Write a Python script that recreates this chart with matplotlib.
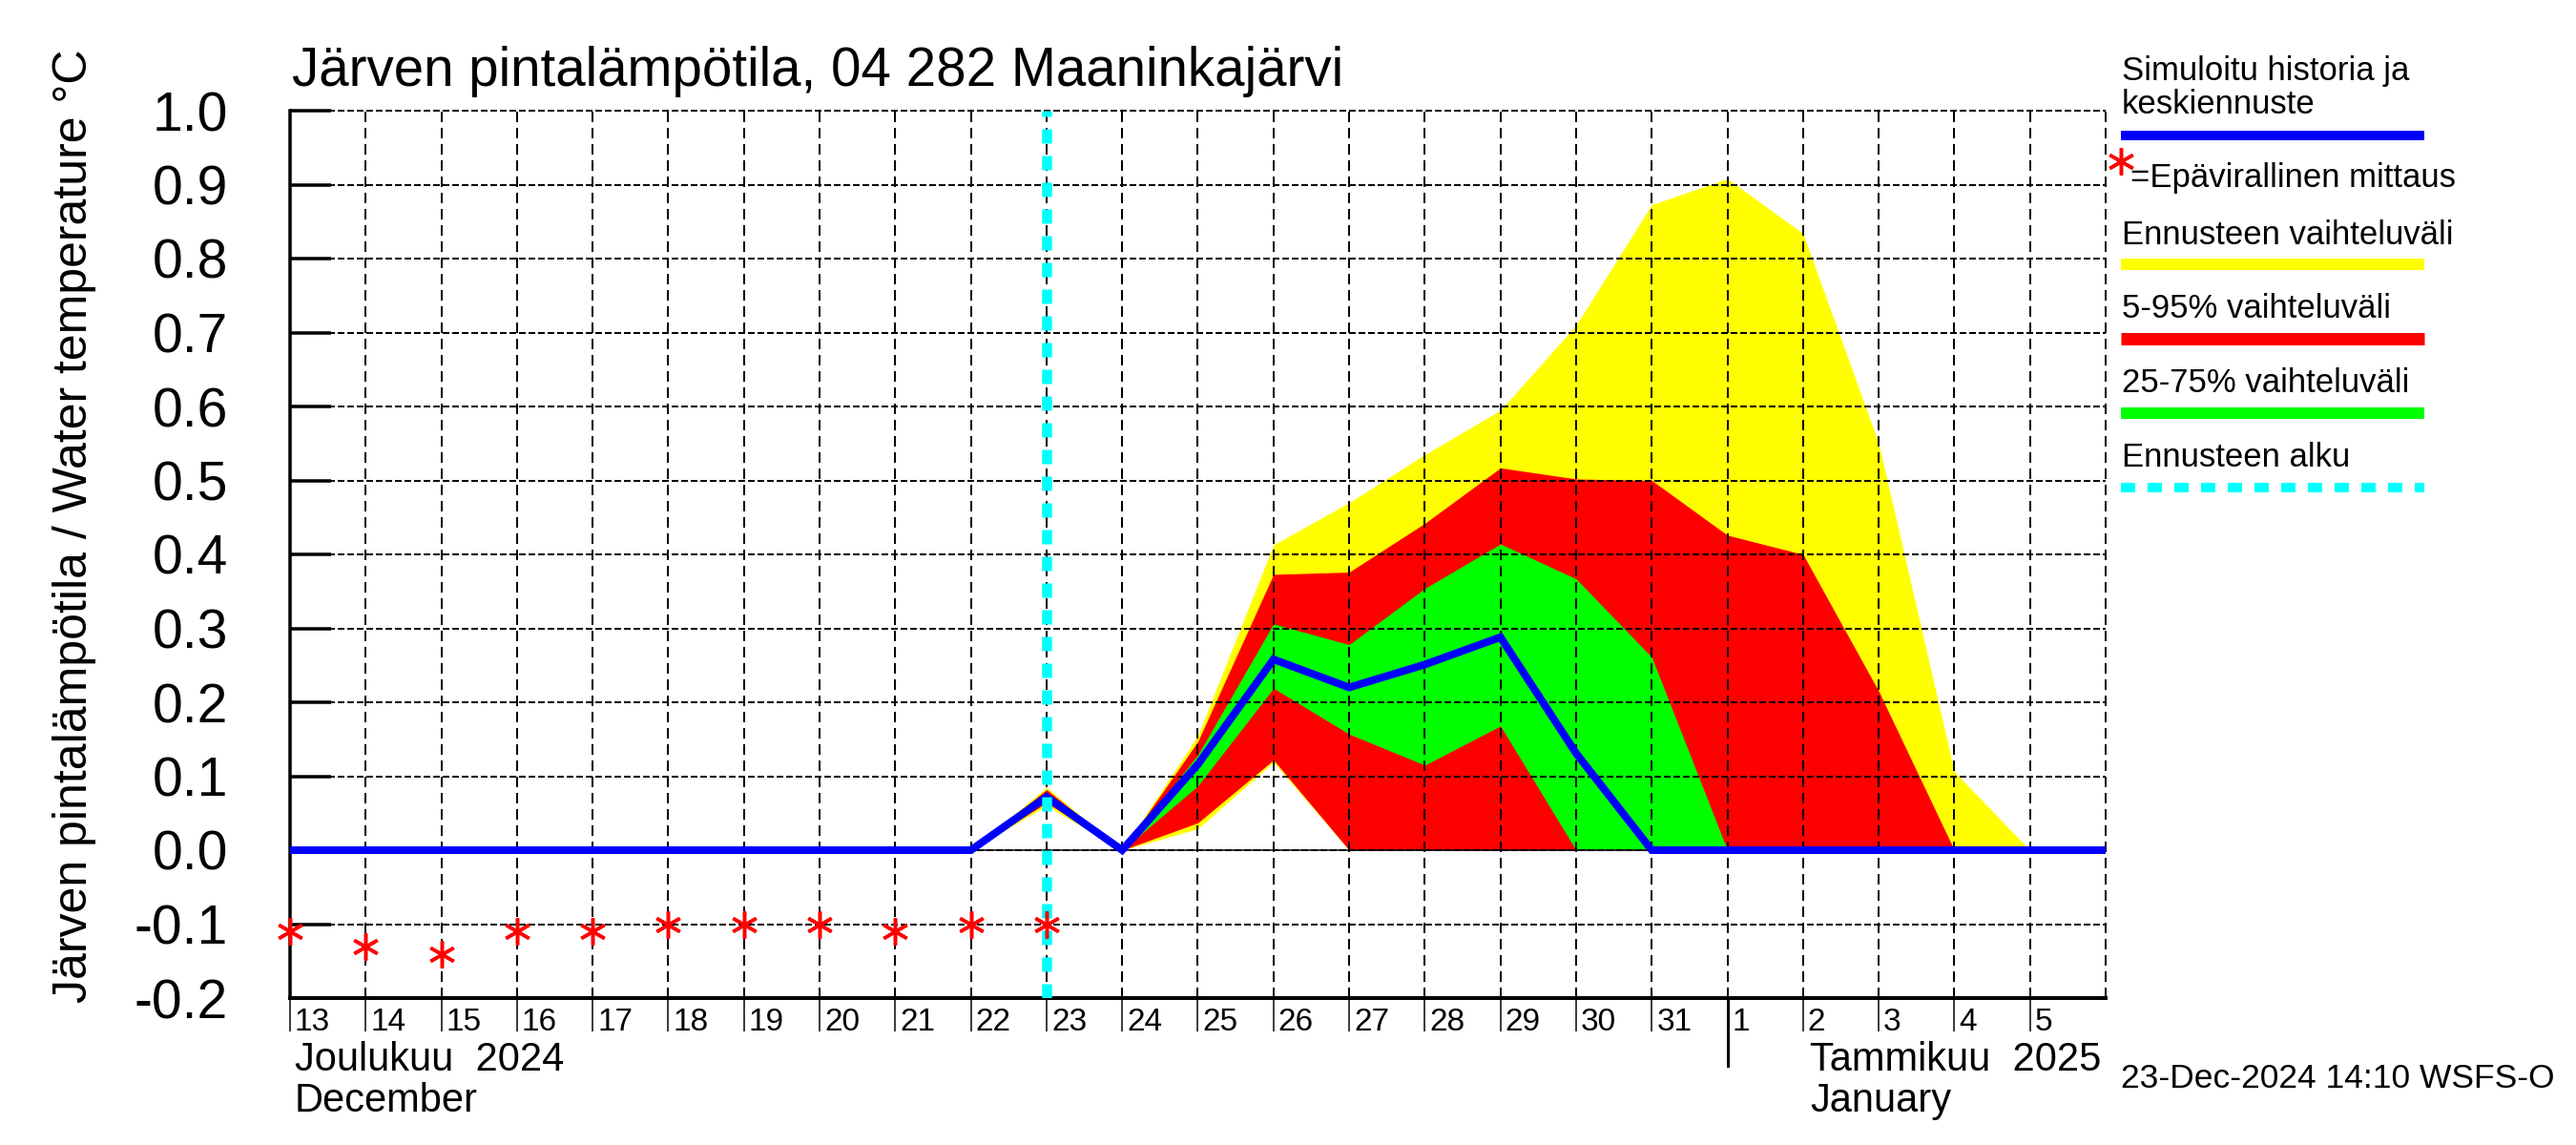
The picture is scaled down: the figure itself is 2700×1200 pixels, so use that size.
import datetime as dt
import matplotlib
matplotlib.use("Agg")
import matplotlib.pyplot as plt
from matplotlib.lines import Line2D
from matplotlib.transforms import ScaledTranslation

plt.rcParams['font.family'] = ['Liberation Sans', 'DejaVu Sans']

W, H = 2700, 1200
PT = 0.72  # points per pixel at dpi 100

# --- data -------------------------------------------------------------
# daily axis, Dec 13 2024 .. Jan 6 2025
start = dt.datetime(2024, 12, 13)
days = [start + dt.timedelta(days=i) for i in range(25)]
day_labels = ['13', '14', '15', '16', '17', '18', '19', '20', '21', '22', '23',
              '24', '25', '26', '27', '28', '29', '30', '31',
              '1', '2', '3', '4', '5']

forecast_start = dt.datetime(2024, 12, 23)

# simulated history + median forecast
median = [0.0, 0.0, 0.0, 0.0, 0.0, 0.0, 0.0, 0.0, 0.0, 0.0,
          0.072, 0.0, 0.116, 0.258, 0.220, 0.251, 0.288, 0.131, 0.0,
          0.0, 0.0, 0.0, 0.0, 0.0, 0.0]

# unofficial observations (red asterisks), Dec 13 .. Dec 23
obs_dates = days[:11]
obs = [-0.11, -0.13, -0.14, -0.11, -0.11, -0.10, -0.10, -0.10, -0.11, -0.10, -0.10]

# forecast bands, Dec 22 .. Jan 6
band_dates = days[9:]
yel_hi = [0, 0.085, 0, 0.155, 0.413, 0.470, 0.535, 0.595, 0.710, 0.873, 0.908, 0.834, 0.550, 0.106, 0, 0]
yel_lo = [0, 0.060, 0, 0.029, 0.119, 0, 0, 0, 0, 0, 0, 0, 0, 0, 0, 0]
red_hi = [0, 0.082, 0, 0.147, 0.373, 0.376, 0.442, 0.517, 0.502, 0.500, 0.426, 0.400, 0.215, 0, 0, 0]
red_lo = [0, 0.064, 0, 0.037, 0.122, 0, 0, 0, 0, 0, 0, 0, 0, 0, 0, 0]
grn_hi = [0, 0.078, 0, 0.129, 0.306, 0.278, 0.354, 0.414, 0.367, 0.261, 0, 0, 0, 0, 0, 0]
grn_lo = [0, 0.067, 0, 0.087, 0.219, 0.157, 0.115, 0.168, 0, 0, 0, 0, 0, 0, 0, 0]

yticks = [-0.2, -0.1, 0.0, 0.1, 0.2, 0.3, 0.4, 0.5, 0.6, 0.7, 0.8, 0.9, 1.0]

# --- figure -----------------------------------------------------------
fig = plt.figure(figsize=(27, 12), dpi=100)
ax = fig.add_axes([304 / W, 1 - 1046 / H, (2207 - 304) / W, (1046 - 116) / H])

ax.fill_between(band_dates, yel_lo, yel_hi, color='#ffff00', lw=0, zorder=1)
ax.fill_between(band_dates, red_lo, red_hi, color='#ff0000', lw=0, zorder=1.1)
ax.fill_between(band_dates, grn_lo, grn_hi, color='#00ff00', lw=0, zorder=1.2)

# dashed grid (edge lines unclipped so they show fully)
for d in days[1:]:
    ax.axvline(d, color='black', lw=1.5 * PT, dashes=(10 / 1.5, 6 / 1.5),
               antialiased=False, clip_on=False, zorder=2)
for v in yticks[1:]:
    ax.axhline(v, color='black', lw=1.5 * PT, dashes=(6 / 1.5, 4 / 1.5),
               antialiased=False, clip_on=False, zorder=2)

ax.hlines(0, band_dates[0], band_dates[-1], color='black', lw=1.5 * PT, zorder=2.5)
ax.plot(days, median, color='#0000ff', lw=8 * PT, solid_joinstyle='miter', zorder=3)
ax.axvline(forecast_start, color='#00ffff', lw=10.5 * PT, dashes=(15 / 10.5, 13 / 10.5), zorder=4)
ax.plot(obs_dates, obs, ls='none', marker=(6, 2, 0), ms=28 * PT, mew=3.5 * PT,
        color='#ff0000', clip_on=False, zorder=5)

ax.set_xlim(days[0], days[-1])
ax.set_ylim(-0.2, 1.0)

for s in ['top', 'right']:
    ax.spines[s].set_visible(False)
ax.spines['left'].set_linewidth(3.5 * PT)
ax.spines['bottom'].set_linewidth(4 * PT)

ax.set_yticks(yticks)
ax.set_yticklabels([f"{v:.1f}" for v in yticks])
ax.tick_params(axis='y', direction='in', length=43 * PT, width=3.5 * PT, pad=47, labelsize=41)

ax.set_xticks(days[:-1])
ax.set_xticklabels([])
ax.tick_params(axis='x', direction='out', length=35 * PT, width=1.5 * PT)

lab_tr = ax.get_xaxis_transform() + ScaledTranslation(5 / 100, -10 / 100, fig.dpi_scale_trans)
for d, lab in zip(days[:-1], day_labels):
    ax.text(d, 0, lab, transform=lab_tr, ha='left', va='top', fontsize=24)

# month boundary
ax.axvline(dt.datetime(2025, 1, 1), ymin=-71 / 930, ymax=0, color='black', lw=3 * PT, clip_on=False)

def ftext(x, y, s, **kw):
    fig.text(x / W, 1 - y / H, s, **kw)

ftext(306, 90, "Järven pintalämpötila, 04 282 Maaninkajärvi", fontsize=40.7, va='baseline')
ftext(78, 551, "Järven pintalämpötila / Water temperature °C", fontsize=36,
      rotation=90, ha='center', va='center')

ftext(309, 1122, "Joulukuu  2024", fontsize=30, va='baseline')
ftext(309, 1165, "December", fontsize=30, va='baseline')
ftext(1897, 1122, "Tammikuu  2025", fontsize=30, va='baseline')
ftext(1897, 1165, "January", fontsize=30, va='baseline')
ftext(2223, 1140, "23-Dec-2024 14:10 WSFS-O", fontsize=25.5, va='baseline')

# legend on the right
def fline(y, color, w, **kw):
    fig.add_artist(Line2D([2223 / W, 2541 / W], [1 - y / H, 1 - y / H], color=color,
                          lw=w * PT, solid_capstyle='butt', transform=fig.transFigure, **kw))

ftext(2224, 84, "Simuloitu historia ja", fontsize=25, va='baseline')
ftext(2224, 119, "keskiennuste", fontsize=25, va='baseline')
fline(142, '#0000ff', 10)
fig.add_artist(Line2D([2223 / W], [1 - 169 / H], ls='none', marker=(6, 2, 0), ms=28 * PT,
                      mew=3.5 * PT, color='#ff0000', transform=fig.transFigure))
ftext(2233, 196, "=Epävirallinen mittaus", fontsize=25, va='baseline')
ftext(2224, 256, "Ennusteen vaihteluväli", fontsize=25, va='baseline')
fline(277, '#ffff00', 12)
ftext(2224, 333, "5-95% vaihteluväli", fontsize=25, va='baseline')
fline(355, '#ff0000', 13)
ftext(2224, 411, "25-75% vaihteluväli", fontsize=25, va='baseline')
fline(433, '#00ff00', 12)
ftext(2224, 489, "Ennusteen alku", fontsize=25, va='baseline')
fline(511, '#00ffff', 10, dashes=(15 / 10, 13 / 10))

fig.savefig("out.png", dpi=100)
